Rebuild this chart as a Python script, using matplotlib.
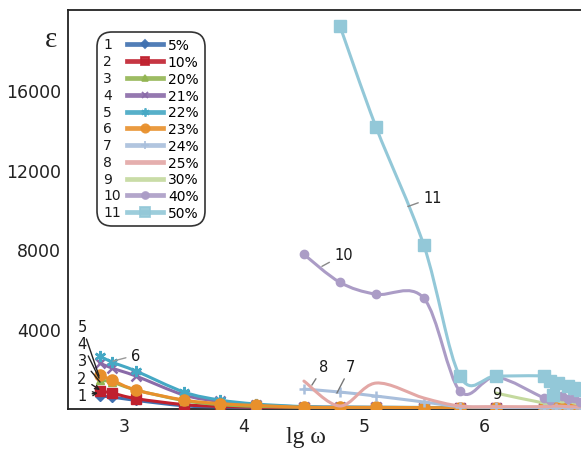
import numpy as np
import matplotlib
matplotlib.use("Agg")
import matplotlib.pyplot as plt
from matplotlib.path import Path
from matplotlib.patches import PathPatch
from matplotlib.lines import Line2D
from matplotlib.text import Text
from matplotlib.legend_handler import HandlerLine2D

# ---------------- data ----------------
X_LOW = [2.8, 2.9, 3.1, 3.5, 3.8, 4.1, 4.5, 4.8, 5.1, 5.5, 5.8, 6.1, 6.5, 6.55, 6.6, 6.65, 6.7, 6.75, 6.8]
s1_y = [650, 600, 430, 160, 100, 70, 50, 40, 40, 35, 30, 30, 30, 30, 30, 30, 30, 30, 30]
s2_y = [900, 800, 520, 220, 130, 90, 60, 50, 50, 40, 40, 40, 40, 40, 40, 40, 40, 40, 40]
s3_y = [1450, 1350, 950, 420, 220, 130, 90, 70, 60, 50, 50, 50, 50, 50, 50, 50, 50, 50, 50]
s4_y = [2300, 2050, 1650, 700, 380, 200, 110, 90, 80, 70, 60, 60, 60, 60, 60, 60, 60, 60, 60]
s5_y = [2650, 2350, 1900, 850, 450, 250, 120, 100, 90, 80, 70, 70, 70, 70, 70, 70, 70, 70, 70]
s6_y = [1700, 1450, 950, 450, 270, 180, 90, 80, 80, 70, 60, 60, 60, 60, 60, 60, 60, 60, 60]

s7_x = [4.5, 4.8, 5.1, 5.5, 5.8, 6.1, 6.5, 6.6, 6.7, 6.8]
s7_y = [1000, 850, 650, 350, 120, 80, 60, 60, 60, 60]
s8_x = [4.5, 4.8, 5.1, 5.5, 5.8, 6.1, 6.5, 6.6, 6.7, 6.8]
s8_y = [1400, 150, 1300, 550, 150, 120, 120, 150, 120, 100]
s9_x = [6.1, 6.5, 6.55, 6.6, 6.65, 6.7, 6.75, 6.8]
s9_y = [800, 300, 350, 450, 350, 400, 300, 250]
s10_x = [4.5, 4.8, 5.1, 5.5, 5.8, 6.1, 6.5, 6.55, 6.6, 6.65, 6.7, 6.75, 6.8]
s10_y = [7750, 6350, 5750, 5550, 900, 1600, 550, 450, 700, 650, 500, 550, 350]
s11_x = [4.8, 5.1, 5.5, 5.8, 6.1, 6.5, 6.55, 6.58, 6.62, 6.7, 6.75, 6.8]
s11_y = [19200, 14150, 8200, 1650, 1650, 1650, 1400, 700, 1300, 1150, 1050, 950]

labels = ["5%", "10%", "20%", "21%", "22%", "23%", "24%", "25%", "30%", "40%", "50%"]
numbers = [str(i) for i in range(1, 12)]
colors = ["#3f70b0", "#c0202e", "#93b552", "#8a6aa8", "#45a8c4", "#e8902c",
          "#a9bfdc", "#e3a7a5", "#c4d99e", "#ab9cc6", "#93c8d8"]
markers = ["D", "s", "^", "x", (6, 2, 0), "o", "+", None, None, "o", "s"]
msizes = [5, 7, 6, 7, 8, 8, 7, 0, 0, 6, 8]
leg_msizes = [4, 6, 5, 5, 6, 6, 6, 0, 0, 5, 7]

xs = [X_LOW] * 6 + [s7_x, s8_x, s9_x, s10_x, s11_x]
ys = [s1_y, s2_y, s3_y, s4_y, s5_y, s6_y, s7_y, s8_y, s9_y, s10_y, s11_y]

xticks = [3, 4, 5, 6]
yticks = [4000, 8000, 12000, 16000]


def smooth_path(x, y):
    x = np.asarray(x, float)
    y = np.asarray(y, float)
    pts = np.column_stack([x, y])
    n = len(pts)
    verts = [pts[0]]
    codes = [Path.MOVETO]
    for i in range(n - 1):
        p0 = pts[i - 1] if i > 0 else pts[i]
        p1 = pts[i]
        p2 = pts[i + 1]
        p3 = pts[i + 2] if i + 2 < n else pts[i + 1]
        c1 = p1 + (p2 - p0) / 6.0
        c2 = p2 - (p3 - p1) / 6.0
        verts += [c1, c2, p2]
        codes += [Path.CURVE4] * 3
    return Path(verts, codes)


fig = plt.figure(figsize=(5.81, 4.52), dpi=100)
ax = fig.add_axes([68 / 581, 42 / 452, 513 / 581, 399 / 452])
ax.set_xlim(2.533, 6.81)
ax.set_ylim(0, 20000)

for i in range(11):
    z = 2 + i
    patch = PathPatch(smooth_path(xs[i], ys[i]), fill=False, edgecolor=colors[i],
                      lw=2.2, zorder=z, capstyle="round", joinstyle="round")
    ax.add_patch(patch)
    if markers[i] is not None:
        mew = 1.8 if markers[i] in ("x", "+") or isinstance(markers[i], tuple) else 1
        ax.plot(xs[i], ys[i], linestyle="none", marker=markers[i], ms=msizes[i],
                color=colors[i], mec=colors[i], mew=mew, zorder=z + 0.5)

# axes styling
for sp in ["left", "top", "bottom"]:
    ax.spines[sp].set_color("#222222")
    ax.spines[sp].set_linewidth(1.3)
ax.spines["right"].set_visible(False)
ax.spines["bottom"].set_zorder(1)
ax.set_xticks(xticks)
ax.set_xticklabels([str(t) for t in xticks])
ax.set_yticks(yticks)
ax.set_yticklabels([str(t) for t in yticks])
ax.tick_params(axis="both", length=0, labelsize=12.5, colors="#222222")
ax.tick_params(axis="y", pad=5)
ax.tick_params(axis="x", pad=6)

fig.text(51 / 581, 1 - 40 / 452, "ε", fontsize=21, family="Liberation Serif",
         ha="center", va="center", color="#222222")
fig.text(306 / 581, 1 - 438 / 452, "lg ω", fontsize=17, family="Liberation Serif",
         ha="center", va="center", color="#222222")


# annotation helpers (pixel positions from reference converted to data)
def px2d(px, py):
    return (3 + (px - 124) / 120.0, (411 - py) * 50.0)


ann = [
    ("11", (433, 199), (408, 208), "-", "#888888"),
    ("10", (344, 256), (322, 268), "-", "#888888"),
    ("8", (324, 368), (312, 387), "-", "#777777"),
    ("7", (351, 368), (337, 395), "-", "#777777"),
    ("6", (136, 357), (113, 363), "-", "#999999"),
    ("5", (82, 328), (99, 378), "-", "#222222"),
    ("4", (82, 345), (99, 380), "-", "#222222"),
    ("3", (82, 362), (100, 384), "-", "#222222"),
    ("2", (82, 380), (100, 392), "->", "#222222"),
    ("1", (82, 397), (98, 395), "->", "#222222"),
]
for txt, tp, lp, style, c in ann:
    ax.annotate(txt, xy=px2d(*lp), xytext=px2d(*tp), fontsize=10.5,
                ha="center", va="center", color="#1a1a1a", zorder=20,
                arrowprops=dict(arrowstyle=style, color=c, lw=1.0,
                                shrinkA=2, shrinkB=0, mutation_scale=7))
ax.text(*px2d(497, 395), "9", fontsize=10.5, ha="center", va="center",
        color="#1a1a1a", zorder=20)


class NumHandler(HandlerLine2D):
    def __init__(self, num, **kw):
        super().__init__(**kw)
        self.num = num

    def create_artists(self, legend, orig_handle, xdescent, ydescent, width,
                       height, fontsize, trans):
        off = width * 0.4
        arts = super().create_artists(legend, orig_handle, xdescent - off,
                                      ydescent, width - off, height, fontsize, trans)
        t = Text(-xdescent, (height - ydescent) / 2, self.num, ha="left",
                 va="center", fontsize=10, color="#1a1a1a")
        t.set_transform(trans)
        return list(arts) + [t]


handles = []
for i in range(11):
    h = Line2D([], [], color=colors[i], lw=3.4, alpha=0.9, marker=markers[i],
               ms=leg_msizes[i], mec=colors[i], mew=1.3)
    handles.append(h)
hmap = {h: NumHandler(numbers[i], numpoints=1) for i, h in enumerate(handles)}
leg = ax.legend(handles, labels, handler_map=hmap, loc="upper left",
                bbox_to_anchor=((97 - 68) / 513, (410 - 33) / 399),
                fontsize=10, handlelength=4.3, handletextpad=0.35,
                labelspacing=0.2, borderpad=0.45, borderaxespad=0,
                frameon=True, fancybox=True)
fr = leg.get_frame()
fr.set_boxstyle("round", pad=0, rounding_size=1.1)
fr.set_edgecolor("#333333")
fr.set_linewidth(1.2)
fr.set_facecolor("white")
fr.set_alpha(1)
leg.set_zorder(30)

fig.savefig("out.png", dpi=100)
